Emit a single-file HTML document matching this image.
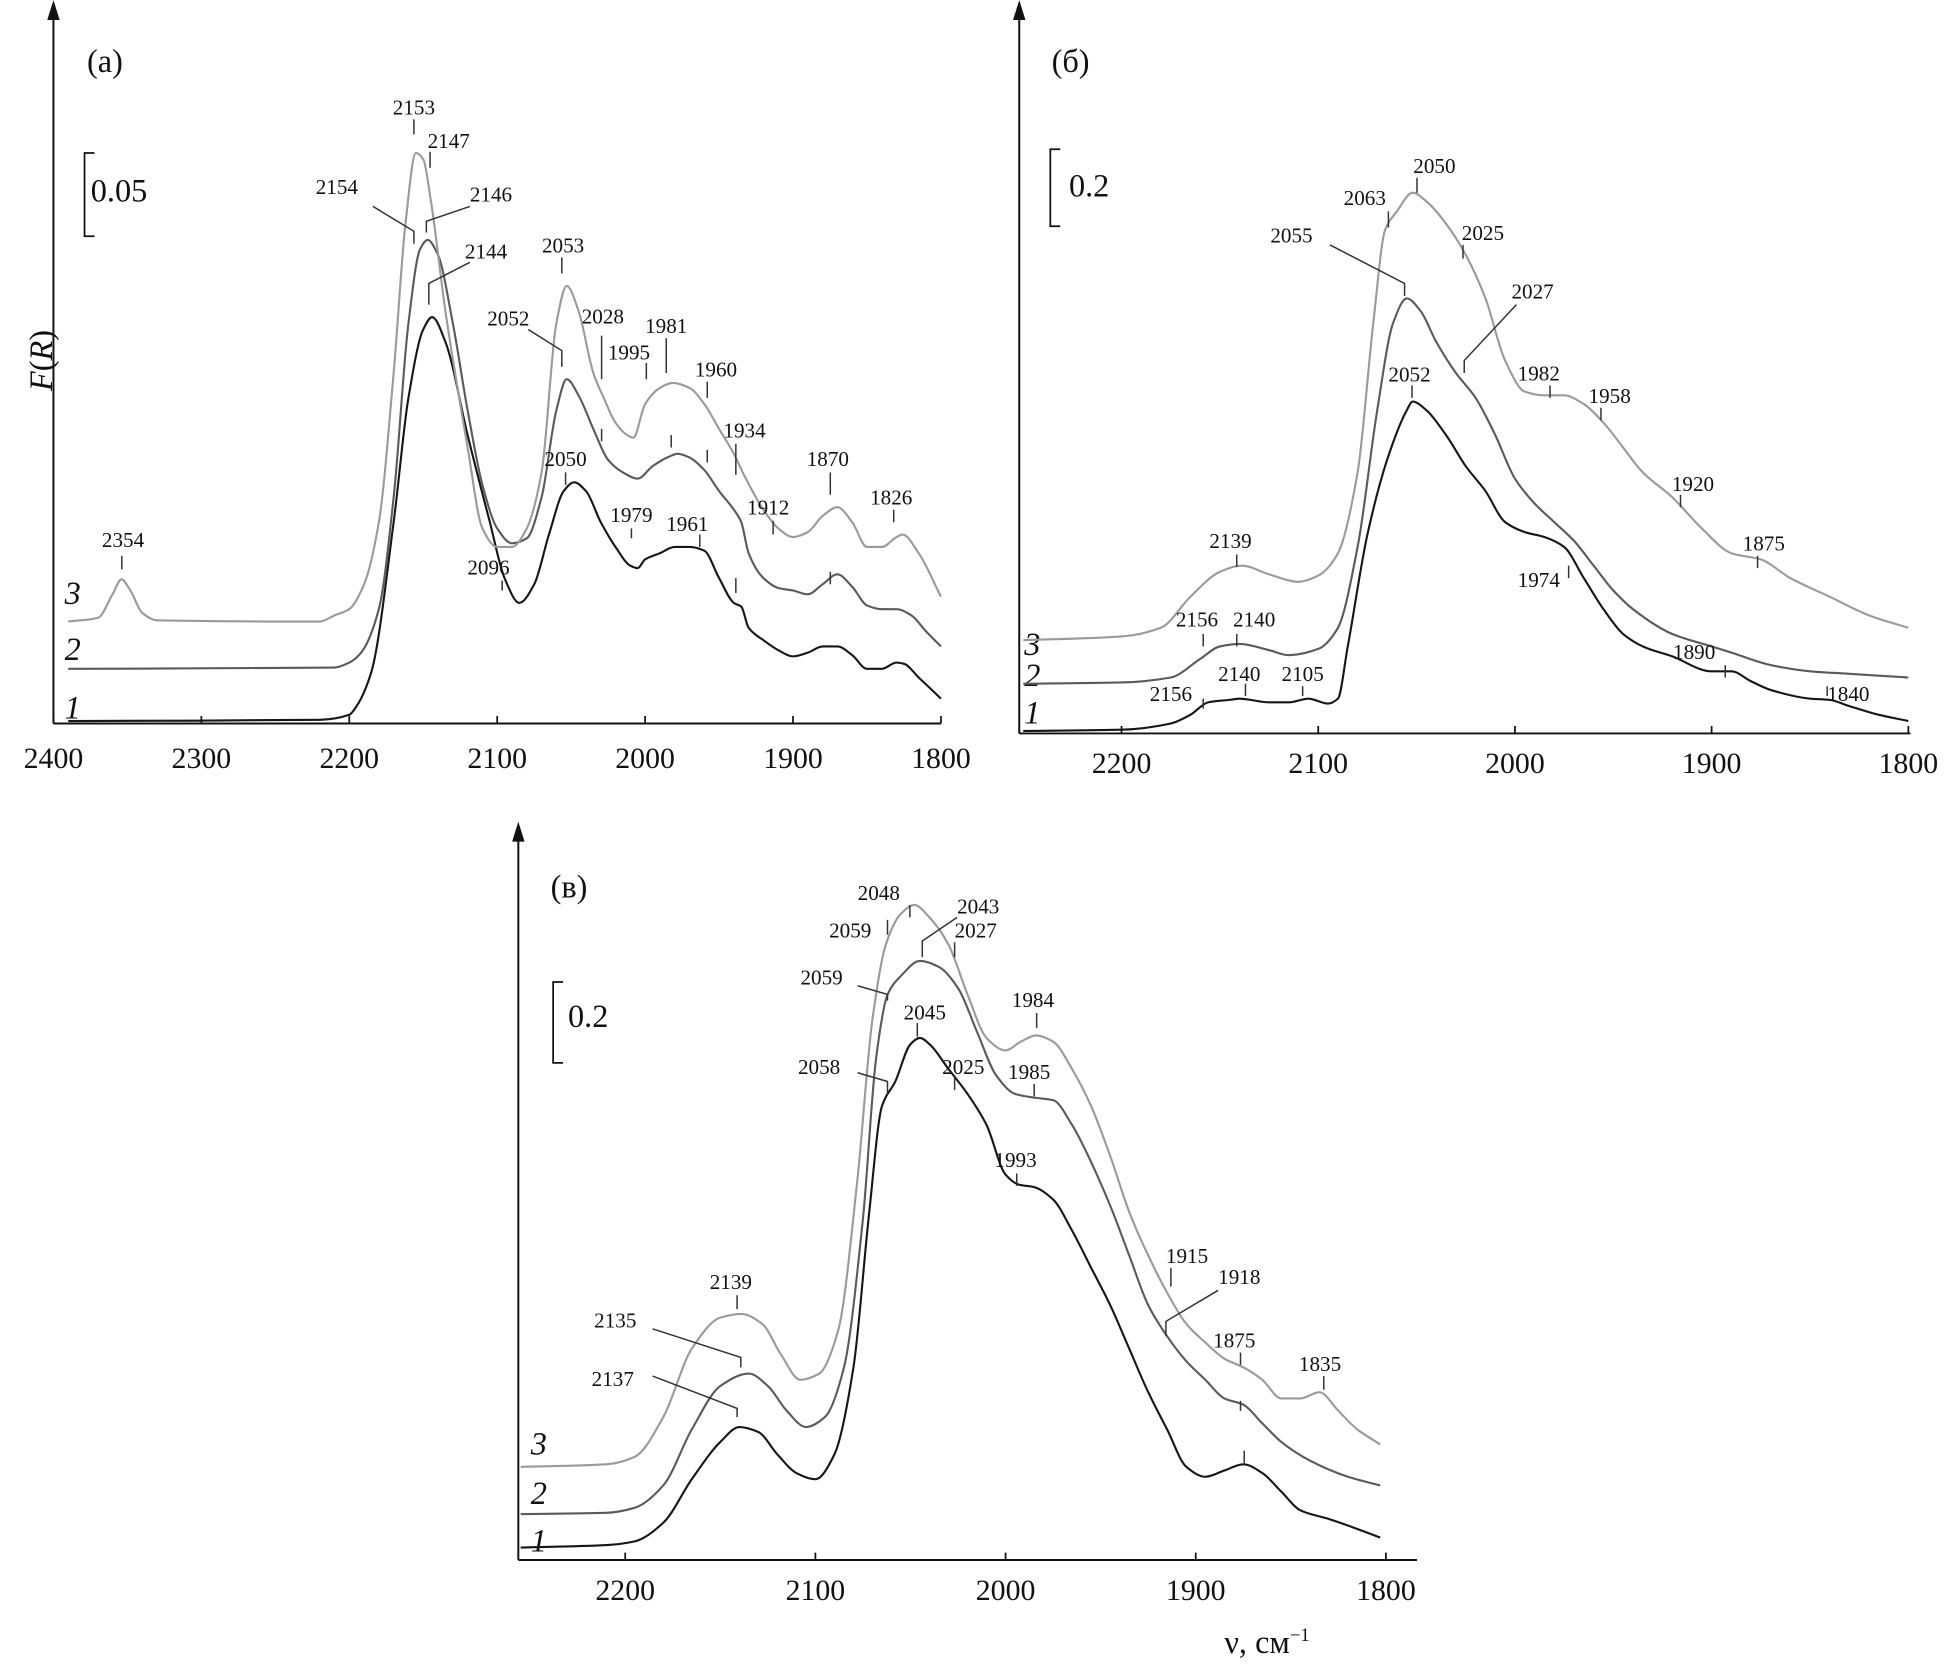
<!DOCTYPE html>
<html><head><meta charset="utf-8"><style>
html,body{margin:0;padding:0;background:#fff;}
svg{display:block;font-family:"Liberation Serif",serif;}
.lab{font-size:17px;fill:#111;}
.tk{font-size:24px;fill:#111;}
</style></head><body>
<svg id="fig" width="1949" height="1667" viewBox="0 0 1568 1341">
<g id="axes" stroke="#111" stroke-width="1.6" fill="none">
 <line x1="43" y1="582" x2="43" y2="6"/>
 <line x1="43" y1="582" x2="757" y2="582"/>
 <line x1="820" y1="590" x2="820" y2="6"/>
 <line x1="820" y1="590" x2="1537" y2="590"/>
 <line x1="417" y1="1255" x2="417" y2="665"/>
 <line x1="417" y1="1255" x2="1140" y2="1255"/>
</g>
<g fill="#111">
 <path d="M38,16 L43,0 L48,16 Z"/><path d="M815,16 L820,0 L825,16 Z"/><path d="M412,677 L417,661 L422,677 Z"/>
</g>
<g stroke="#111" stroke-width="1.4" fill="none">
 <path d="M76,123 L68,123 L68,190 L76,190"/>
 <path d="M853,120 L845,120 L845,182 L853,182"/>
 <path d="M453,790 L445,790 L445,855 L453,855"/>
</g>
<g class="tk" style="font-size:26px">
 <text x="70" y="58">(a)</text>
 <text x="846" y="58">(б)</text>
 <text x="443" y="722">(в)</text>
 <text x="73" y="162">0.05</text>
 <text x="860" y="158">0.2</text>
 <text x="457" y="826">0.2</text>
 <text transform="translate(42,290) rotate(-90)" text-anchor="middle"><tspan font-style="italic">F</tspan>(<tspan font-style="italic">R</tspan>)</text>
 <text x="985" y="1330">ν, см<tspan dy="-10" font-size="15">−1</tspan></text>
</g>
<g class="tk" style="font-size:26px;font-style:italic">
 <text x="52" y="486">3</text><text x="52" y="531">2</text><text x="52" y="578">1</text>
 <text x="824" y="527">3</text><text x="824" y="552">2</text><text x="824" y="582">1</text>
 <text x="427" y="1170">3</text><text x="427" y="1210">2</text><text x="427" y="1248">1</text>
</g>
<g id="curves"></g>
<g id="ticks"></g>
<g class="lab" id="annot">
 <text x="82" y="440">2354</text>
 <text x="316" y="92">2153</text><text x="344" y="119">2147</text><text x="254" y="156">2154</text><text x="378" y="162">2146</text>
 <text x="374" y="208">2144</text><text x="436" y="203">2053</text><text x="392" y="262">2052</text><text x="468" y="260">2028</text>
 <text x="489" y="289">1995</text><text x="519" y="268">1981</text><text x="559" y="303">1960</text><text x="582" y="352">1934</text>
 <text x="649" y="375">1870</text><text x="700" y="406">1826</text><text x="438" y="375">2050</text><text x="376" y="462">2096</text>
 <text x="491" y="420">1979</text><text x="536" y="427">1961</text><text x="601" y="414">1912</text>
 <text x="1081" y="165">2063</text><text x="1137" y="139">2050</text><text x="1176" y="193">2025</text><text x="1022" y="195">2055</text>
 <text x="1216" y="240">2027</text><text x="1117" y="307">2052</text><text x="1221" y="306">1982</text><text x="1278" y="324">1958</text>
 <text x="1345" y="395">1920</text><text x="1402" y="443">1875</text><text x="1221" y="472">1974</text><text x="1346" y="530">1890</text>
 <text x="1470" y="564">1840</text><text x="973" y="441">2139</text><text x="946" y="504">2156</text><text x="992" y="504">2140</text>
 <text x="925" y="564">2156</text><text x="980" y="548">2140</text><text x="1031" y="548">2105</text>
 <text x="690" y="724">2048</text><text x="667" y="754">2059</text><text x="770" y="735">2043</text><text x="768" y="754">2027</text>
 <text x="644" y="792">2059</text><text x="727" y="820">2045</text><text x="814" y="810">1984</text><text x="642" y="864">2058</text>
 <text x="758" y="864">2025</text><text x="811" y="868">1985</text><text x="800" y="939">1993</text><text x="571" y="1037">2139</text>
 <text x="478" y="1068">2135</text><text x="476" y="1115">2137</text><text x="938" y="1016">1915</text><text x="980" y="1033">1918</text>
 <text x="976" y="1084">1875</text><text x="1045" y="1103">1835</text>
</g>
<g stroke="#333" stroke-width="1.2" fill="none">
 <path d="M98,447V458M333,96V108M346,122V135M300,166L333,186V196M378,166L343,178V187M378,211L345,228V245M452,207V220M425,265L452,282V295M484,270V305M520,292V305M536,272V300M569,307V320M592,357V372M668,380V398M719,410V420M455,380V390M404,467V475M508,425V433M563,430V440M622,419V430M484,345V355M540,350V360M569,362V372M592,372V382M668,460V470M592,465V477"/>
 <path d="M1117,170V183M1140,143V155M1177,197V208M1070,197L1130,228V238M1220,245L1178,290V300M1136,310V320M1247,310V320M1288,328V338M1352,398V408M1414,447V457M1262,455V465M1388,535V545M1470,552V560M995,446V456M968,510V520M995,510V520M968,562V570M1002,550V560M1048,552V560"/>
 <path d="M732,728V738M714,740V752M770,738L742,757V770M768,758V770M690,793L714,800V805M738,823V834M834,815V827M690,863L714,870V880M768,866V877M832,872V882M818,944V954M593,1042V1053M525,1069L596,1092V1100M525,1107L593,1133V1140M942,1020V1035M980,1038L938,1063V1075M998,1088V1098M998,1127V1135M1001,1167V1177M1065,1107V1118"/>
</g>
</svg>
<script>
// intensity in arbitrary units (scale bar: a = 67 units = 0.05; б = 62 units = 0.2; в = 65 units = 0.2)
const waveA1=[2390,2220,2200,2195,2185,2170,2160,2150,2144,2135,2120,2105,2095,2085,2075,2065,2055,2048,2040,2030,2020,2010,2005,2000,1990,1980,1970,1960,1950,1940,1935,1930,1920,1910,1900,1890,1880,1870,1860,1850,1840,1830,1825,1815,1800];
const intA1=[2,3,7,14,42,162,262,317,327,307,232,162,117,97,112,152,187,194,187,162,142,127,125,132,137,142,142,139,117,97,94,77,67,59,54,57,62,62,55,44,44,49,48,37,20];
const waveA2=[2390,2210,2200,2192,2180,2170,2160,2152,2147,2140,2130,2120,2110,2100,2090,2080,2070,2060,2053,2045,2035,2025,2015,2005,1995,1985,1978,1970,1960,1950,1940,1935,1930,1920,1910,1900,1890,1880,1870,1860,1850,1840,1830,1820,1810,1800];
const intA2=[44,45,49,57,92,182,322,382,389,377,322,252,192,157,145,149,182,252,277,264,237,212,202,197,207,214,217,214,204,187,172,162,137,117,109,107,104,112,120,110,95,92,92,87,74,62];
const waveA3=[2390,2370,2360,2354,2348,2340,2330,2220,2210,2200,2190,2180,2170,2162,2155,2150,2145,2135,2120,2110,2100,2090,2080,2070,2060,2053,2045,2035,2028,2020,2012,2008,2000,1990,1981,1970,1960,1950,1940,1934,1920,1910,1900,1890,1880,1870,1860,1850,1840,1830,1826,1815,1800];
const intA3=[82,85,104,116,107,89,83,82,87,92,112,162,282,402,459,454,422,332,222,157,142,142,157,202,322,352,332,282,262,242,232,230,257,270,274,270,257,237,217,202,172,157,150,154,167,174,162,142,142,150,152,137,102];
const waveB1=[2250,2200,2175,2165,2156,2145,2140,2125,2115,2105,2095,2090,2085,2075,2065,2055,2052,2045,2035,2025,2015,2005,1995,1985,1975,1965,1955,1945,1935,1920,1900,1890,1880,1870,1850,1840,1830,1815,1800];
const intB1=[2,3,8,15,25,27,28,25,25,28,24,28,70,160,220,260,267,260,240,215,195,170,162,158,150,125,100,80,70,62,50,50,42,35,28,27,22,15,10];
const waveB2=[2250,2200,2175,2160,2150,2140,2125,2115,2100,2090,2080,2070,2062,2055,2048,2040,2030,2020,2010,2000,1990,1980,1970,1960,1950,1940,1920,1900,1890,1870,1850,1830,1800];
const intB2=[40,41,45,60,70,72,67,63,68,85,150,260,330,350,340,315,290,270,240,205,185,170,155,135,115,100,80,70,65,55,50,48,45];
const waveB3=[2250,2200,2180,2165,2150,2139,2125,2110,2100,2090,2080,2072,2066,2060,2052,2045,2035,2025,2015,2005,1995,1985,1975,1965,1955,1945,1935,1920,1905,1890,1875,1860,1840,1820,1800];
const intB3=[75,78,85,110,130,135,128,122,127,145,210,330,405,420,435,428,410,385,350,300,275,272,272,265,250,230,210,190,165,145,140,125,110,95,85];
const waveC1=[2255,2210,2195,2180,2165,2150,2140,2130,2120,2110,2100,2090,2080,2072,2065,2058,2050,2045,2040,2030,2020,2010,2000,1993,1985,1975,1965,1955,1945,1935,1925,1915,1905,1895,1885,1875,1865,1855,1845,1830,1815,1803];
const intC1=[10,12,15,30,65,95,107,103,85,70,65,85,155,275,365,385,415,420,415,395,375,350,310,302,300,290,265,235,205,170,135,105,75,67,72,77,70,55,40,33,25,18];
const waveC2=[2255,2210,2195,2180,2165,2150,2135,2125,2115,2105,2095,2085,2075,2068,2062,2055,2045,2035,2025,2015,2005,1995,1985,1975,1965,1955,1945,1935,1925,1915,1905,1895,1885,1875,1865,1855,1840,1820,1803];
const intC2=[37,38,42,60,105,140,150,140,120,107,115,155,275,405,455,470,482,477,460,425,390,375,372,370,350,320,285,245,205,180,160,145,130,125,110,95,80,67,60];
const waveC3=[2255,2210,2195,2180,2165,2150,2139,2128,2118,2108,2098,2088,2078,2070,2063,2055,2048,2040,2030,2020,2010,2000,1992,1984,1975,1965,1955,1945,1935,1925,1915,1905,1895,1885,1875,1865,1855,1845,1835,1825,1815,1803];
const intC3=[75,77,83,115,170,195,198,190,165,145,150,185,305,435,495,520,527,517,495,455,420,410,417,422,417,395,365,325,280,245,215,190,175,162,155,145,130,130,135,120,105,93];
const ticksA=[2400,2300,2200,2100,2000,1900,1800];
const ticksB=[2200,2100,2000,1900,1800];
const ticksC=[2200,2100,2000,1900,1800];

const NS='http://www.w3.org/2000/svg';
const panels={
 a:{x:v=>43+(2400-v)*1.19,y:h=>582-h,axisY:582},
 b:{x:v=>820+(2252-v)*1.5825,y:h=>590-h,axisY:590},
 c:{x:v=>503+(2200-v)*1.53,y:h=>1255-h,axisY:1255}
};
function pathFor(p,w,h){
 const X=w.map(v=>p.x(v)),Y=h.map(v=>p.y(v)),n=X.length;
 const d=[],m=new Array(n);
 for(let i=0;i<n-1;i++)d.push((Y[i+1]-Y[i])/(X[i+1]-X[i]));
 m[0]=d[0];m[n-1]=d[n-2];
 for(let i=1;i<n-1;i++){
  if(d[i-1]*d[i]<=0)m[i]=0;
  else{const h0=X[i]-X[i-1],h1=X[i+1]-X[i];const w1=2*h1+h0,w2=h1+2*h0;m[i]=(w1+w2)/(w1/d[i-1]+w2/d[i]);}
 }
 let s='M'+X[0].toFixed(1)+','+Y[0].toFixed(1);
 for(let i=0;i<n-1;i++){
  const hh=(X[i+1]-X[i])/3;
  s+='C'+(X[i]+hh).toFixed(1)+','+(Y[i]+m[i]*hh).toFixed(1)+' '+(X[i+1]-hh).toFixed(1)+','+(Y[i+1]-m[i+1]*hh).toFixed(1)+' '+X[i+1].toFixed(1)+','+Y[i+1].toFixed(1);
 }
 return s;
}
const cg=document.getElementById('curves');
const colors=['#161616','#5a5a5a','#9a9a9a'];
const series=[['a',waveA1,intA1,0,'panel-a-curve-1'],['a',waveA2,intA2,1,'panel-a-curve-2'],['a',waveA3,intA3,2,'panel-a-curve-3'],
 ['b',waveB1,intB1,0,'panel-b-curve-1'],['b',waveB2,intB2,1,'panel-b-curve-2'],['b',waveB3,intB3,2,'panel-b-curve-3'],
 ['c',waveC1,intC1,0,'panel-c-curve-1'],['c',waveC2,intC2,1,'panel-c-curve-2'],['c',waveC3,intC3,2,'panel-c-curve-3']];
series.forEach(s=>{
 const el=document.createElementNS(NS,'path');
 el.setAttribute('d',pathFor(panels[s[0]],s[1],s[2]));
 el.setAttribute('fill','none');el.setAttribute('stroke',colors[s[3]]);el.setAttribute('stroke-width','1.7');
 
 
 cg.appendChild(el);
});
const tg=document.getElementById('ticks');
[['a',ticksA,618],['b',ticksB,622],['c',ticksC,1287]].forEach(t=>{
 const p=panels[t[0]];
 t[1].forEach(v=>{
  const x=p.x(v);
  const ln=document.createElementNS(NS,'line');
  ln.setAttribute('x1',x);ln.setAttribute('x2',x);ln.setAttribute('y1',p.axisY);ln.setAttribute('y2',p.axisY-6);
  ln.setAttribute('stroke','#111');ln.setAttribute('stroke-width','1.4');
  
  
  tg.appendChild(ln);
  const tx=document.createElementNS(NS,'text');
  tx.setAttribute('x',x);tx.setAttribute('y',t[2]);tx.setAttribute('text-anchor','middle');tx.setAttribute('class','tk');
  tx.textContent=v;
  
  
  tg.appendChild(tx);
 });
});
</script>
</body></html>
